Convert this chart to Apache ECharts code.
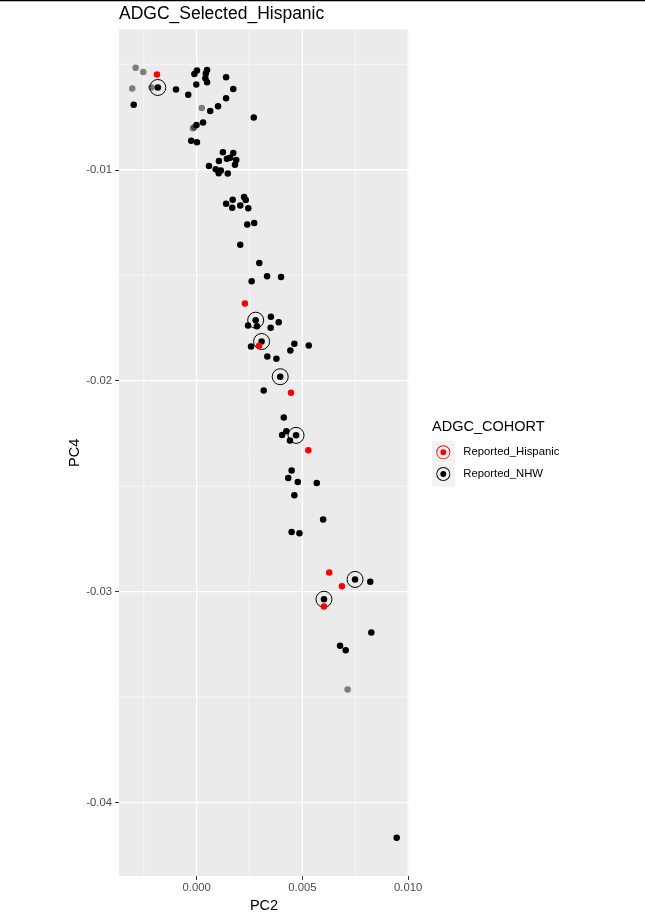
<!DOCTYPE html>
<html>
<head>
<meta charset="utf-8">
<script src="https://cdn.jsdelivr.net/npm/echarts@6/dist/echarts.min.js"></script>
<style>
html,body{margin:0;padding:0;background:#fff;}
#chart{width:645px;height:918px;}
</style>
</head>
<body>
<div id="chart"></div>
<script>
// ---- data (PC2, PC4) ----
const hispanicPC2 = [-0.00188, 0.00228, 0.00295, 0.00446, 0.00528, 0.00627, 0.00687, 0.00602];
const hispanicPC4 = [-0.00549, -0.01634, -0.01834, -0.02057, -0.02330, -0.02909, -0.02974, -0.03070];

const nhwPC2 = [-0.00298, -0.00098, -0.00040, -0.00002, -0.00011, 0.00001, 0.00049, 0.00043, 0.00041, 0.00049,
  0.00139, 0.00173, 0.00139, 0.00101, 0.00064, 0.00270, 0.00030, -0.00001, -0.00026, 0.00001,
  0.00124, 0.00173, 0.00143, 0.00158, 0.00187, 0.00181, 0.00105, 0.00058, 0.00090, 0.00114,
  0.00104, 0.00147, 0.00139, 0.00170, 0.00224, 0.00232, 0.00168, 0.00206, 0.00244, 0.00239,
  0.00272, 0.00206, 0.00296, 0.00333, 0.00399, 0.00260, 0.00351, 0.00388, 0.00243, 0.00285,
  0.00350, 0.00462, 0.00443, 0.00530, 0.00257, 0.00334, 0.00377, 0.00317, 0.00412, 0.00424,
  0.00404, 0.00441, 0.00449, 0.00433, 0.00478, 0.00568, 0.00462, 0.00598, 0.00449, 0.00486,
  0.00821, 0.00826, 0.00678, 0.00705, 0.00946];
const nhwPC4 = [-0.00692, -0.00620, -0.00645, -0.00596, -0.00546, -0.00530, -0.00527, -0.00544, -0.00566, -0.00585,
  -0.00561, -0.00617, -0.00661, -0.00699, -0.00721, -0.00752, -0.00776, -0.00788, -0.00863, -0.00869,
  -0.00917, -0.00920, -0.00948, -0.00943, -0.00954, -0.00976, -0.00959, -0.00982, -0.00997, -0.01003,
  -0.01016, -0.01018, -0.01161, -0.01142, -0.01129, -0.01143, -0.01180, -0.01169, -0.01183, -0.01259,
  -0.01252, -0.01356, -0.01442, -0.01505, -0.01508, -0.01529, -0.01697, -0.01723, -0.01738, -0.01742,
  -0.01749, -0.01825, -0.01857, -0.01833, -0.01838, -0.01885, -0.01896, -0.02046, -0.02174, -0.02239,
  -0.02257, -0.02283, -0.02426, -0.02461, -0.02480, -0.02485, -0.02543, -0.02658, -0.02717, -0.02723,
  -0.02953, -0.03193, -0.03256, -0.03278, -0.04166];

// NHW samples that are highlighted with a ring
const ringedPC2 = [-0.00184, 0.00279, 0.00307, 0.00395, 0.00470, 0.00749, 0.00602];
const ringedPC4 = [-0.00610, -0.01713, -0.01814, -0.01981, -0.02259, -0.02942, -0.03036];

// samples outside the two cohorts (drawn grey)
const otherPC2 = [-0.00289, -0.00253, -0.00305, -0.00214, 0.00024, -0.00018, -0.00011, 0.00714];
const otherPC4 = [-0.00517, -0.00536, -0.00615, -0.00610, -0.00707, -0.00803, -0.00798, -0.03464];

const xTicks = [0, 0.005, 0.010];
const xMinor = [-0.0025, 0.0025, 0.0075];
const yTicks = [-0.01, -0.02, -0.03, -0.04];
const yMinor = [-0.005, -0.015, -0.025, -0.035];

const legendNames = ['Reported_Hispanic', 'Reported_NHW'];
const titleText = 'ADGC_Selected_Hispanic';
const legendTitle = 'ADGC_COHORT';

// ---- build ----
const X_MIN = -0.003676, X_MAX = 0.010043;
const Y_MIN = -0.043483, Y_MAX = -0.003351;
const zip = (a, b) => a.map((v, i) => [v, b[i]]);
const FONT = '"Liberation Sans", Arial, sans-serif';

function gridSeries(vals, isX, width) {
  return vals.map(v => ({
    type: 'line', silent: true, z: 1, symbol: 'none', animation: false,
    lineStyle: {color: '#FFFFFF', width: width},
    data: isX ? [[v, Y_MIN], [v, Y_MAX]] : [[X_MIN, v], [X_MAX, v]]
  }));
}

const ringIcon = 'path://M0,-8A8,8 0 1,1 0,8A8,8 0 1,1 0,-8Z M0,-7A7,7 0 1,0 0,7A7,7 0 1,0 0,-7Z M0,-3.4A3.4,3.4 0 1,1 0,3.4A3.4,3.4 0 1,1 0,-3.4Z';

const chart = echarts.init(document.getElementById('chart'), null, {renderer: 'canvas'});
chart.setOption({
  animation: false,
  backgroundColor: '#ffffff',
  textStyle: {fontFamily: FONT},
  title: {
    text: titleText, left: 119, top: 5, padding: 0,
    textStyle: {fontSize: 17.5, fontWeight: 'normal', color: '#000', fontFamily: FONT}
  },
  grid: {
    left: 119, top: 29.5, width: 290, height: 848,
    show: true, backgroundColor: '#EBEBEB', borderWidth: 0, containLabel: false
  },
  xAxis: {
    type: 'value', min: X_MIN, max: X_MAX, position: 'bottom',
    name: 'PC2', nameLocation: 'middle', nameGap: 17,
    nameTextStyle: {fontSize: 14.5, color: '#000', fontFamily: FONT},
    axisLine: {show: false, onZero: false},
    splitLine: {show: false},
    axisTick: {show: true, length: 4, customValues: xTicks, lineStyle: {color: '#333', width: 1}},
    axisLabel: {customValues: xTicks, margin: 6, fontSize: 11.3, color: '#4D4D4D', fontFamily: FONT,
      formatter: v => v.toFixed(3)}
  },
  yAxis: {
    type: 'value', min: Y_MIN, max: Y_MAX, position: 'left',
    name: 'PC4', nameLocation: 'middle', nameGap: 35, nameRotate: 90,
    nameTextStyle: {fontSize: 14.5, color: '#000', fontFamily: FONT},
    axisLine: {show: false, onZero: false},
    splitLine: {show: false},
    axisTick: {show: true, length: 4, customValues: yTicks, lineStyle: {color: '#333', width: 1}},
    axisLabel: {customValues: yTicks, margin: 7, fontSize: 11.3, color: '#4D4D4D', fontFamily: FONT,
      formatter: v => v.toFixed(2)}
  },
  legend: {
    orient: 'vertical', left: 436.3, top: 445.3,
    data: legendNames.map(n => ({name: n, icon: ringIcon})),
    itemWidth: 14, itemHeight: 14, itemGap: 7.7, padding: 0,
    selectedMode: false,
    textStyle: {fontSize: 11.3, color: '#000', fontFamily: FONT, padding: [0, 0, 0, 8]}
  },
  graphic: [
    {type: 'line', shape: {x1: 0, y1: 0.5, x2: 645, y2: 0.5}, style: {stroke: '#000', lineWidth: 1.5}, z: 10},
    {type: 'text', left: 432, top: 419, style: {text: legendTitle, fontSize: 14.5, fill: '#000', font: '14.5px ' + FONT}},
    {type: 'rect', shape: {x: 432, y: 440.7, width: 23, height: 23}, style: {fill: '#F2F2F2'}, z: -1},
    {type: 'rect', shape: {x: 432, y: 463.7, width: 23, height: 23}, style: {fill: '#F2F2F2'}, z: -1}
  ],
  series: [].concat(
    gridSeries(xMinor, true, 0.6),
    gridSeries(yMinor, false, 0.6),
    gridSeries(xTicks, true, 1.3),
    gridSeries(yTicks, false, 1.3),
    [
      {
        name: 'Other', type: 'scatter', z: 3, symbolSize: 6.5, silent: true,
        itemStyle: {color: 'rgba(0,0,0,0.47)', opacity: 1},
        data: zip(otherPC2, otherPC4)
      },
      {
        name: 'Reported_NHW', type: 'scatter', z: 4, symbolSize: 6.5, silent: true,
        itemStyle: {color: '#000000', opacity: 1},
        data: zip(nhwPC2, nhwPC4).concat(zip(ringedPC2, ringedPC4))
      },
      {
        name: 'NHW_ring', type: 'scatter', z: 5, symbol: 'circle', symbolSize: 16, silent: true,
        itemStyle: {color: 'rgba(0,0,0,0)', borderColor: '#000', borderWidth: 1, opacity: 1},
        data: zip(ringedPC2, ringedPC4)
      },
      {
        name: 'Reported_Hispanic', type: 'scatter', z: 6, symbolSize: 6.5, silent: true,
        itemStyle: {color: '#FF0000', opacity: 1},
        data: zip(hispanicPC2, hispanicPC4)
      }
    ]
  )
});
</script>
</body>
</html>
